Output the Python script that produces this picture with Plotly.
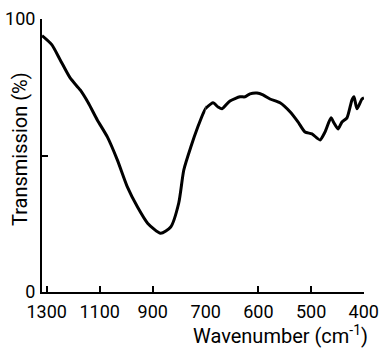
import plotly.graph_objects as go

# Data (wavenumber in cm^-1, transmission in %)
wavenumber = [1317.8, 1281, 1249.5, 1211.6, 1173.6, 1143.3, 1109.1, 1071.2, 1033.2,
              995.3, 957.3, 919.4, 870.0, 832.1, 801.7, 782.7, 756.2, 729.6, 706.8,
              686.1, 676.7, 669.1, 653.9, 634.9, 625.4, 615.9, 602.7, 591.3, 578.0,
              559.0, 540.0, 524.9, 511.6, 498.3, 483.1, 473.6, 462.2, 456.5, 448.9,
              441.4, 431.9, 422.4, 418.6, 412.9, 403.4, 399.6]
transmission = [93.9, 90.6, 85.1, 78.4, 74.0, 69.3, 63.0, 56.8, 48.3,
                38.4, 31.1, 25.2, 21.5, 23.8, 32.6, 44.7, 53.1, 60.5, 66.0,
                69.3, 67.8, 67.1, 70.0, 71.5, 71.5, 72.6, 72.9, 72.2, 70.7,
                69.3, 66.0, 62.3, 58.6, 57.9, 55.7, 58.6, 63.8, 61.9, 59.7,
                62.3, 63.8, 70.4, 71.5, 67.1, 70.7, 71.1]

left_ticks = [1300, 1100, 900]
right_ticks = [700, 600, 500, 400]
y_ticks = [0, 50, 100]
y_ticktext = ["0", "", "100"]

# split scale: 1300-700 on left half, 700-400 on right half
split = 700
iL = max(i for i, w in enumerate(wavenumber) if w >= split)
left_x = wavenumber[:iL + 2]
left_y = transmission[:iL + 2]
right_x = wavenumber[iL:]
right_y = transmission[iL:]

W, H = 384, 353
ml, mr, mt, mb = 42, 20, 19, 61
pw = W - ml - mr
ph = H - mt - mb
split_frac = (205.7 - ml) / pw

FONT = "Roboto, Arial, sans-serif"
line = dict(color="black", width=3, shape="spline", smoothing=0.6)

fig = go.Figure()
fig.add_trace(go.Scatter(x=left_x, y=left_y, mode="lines", line=line,
                         xaxis="x", yaxis="y", showlegend=False, hoverinfo="skip"))
fig.add_trace(go.Scatter(x=right_x, y=right_y, mode="lines", line=line,
                         xaxis="x2", yaxis="y", showlegend=False, hoverinfo="skip"))

axis_common = dict(showline=True, linecolor="black", linewidth=2, ticks="inside",
                   ticklen=6, tickwidth=1.5, tickcolor="black", showgrid=False,
                   zeroline=False, tickangle=0, automargin=False,
                   tickfont=dict(family=FONT, size=18, color="black"))

fig.update_layout(
    width=W, height=H,
    margin=dict(l=ml, r=mr, t=mt, b=mb, autoexpand=False),
    paper_bgcolor="white", plot_bgcolor="white",
    xaxis=dict(domain=[0, split_frac], range=[1317.8, 700], tickmode="array",
               tickvals=left_ticks, anchor="y", ticklabelstandoff=2, **axis_common),
    xaxis2=dict(domain=[split_frac, 1], range=[700, 399.6], tickmode="array",
                tickvals=right_ticks, anchor="y", ticklabelstandoff=2, **axis_common),
    yaxis=dict(domain=[0, 1], range=[0, 100], tickmode="array", tickvals=y_ticks,
               ticktext=y_ticktext, anchor="x", ticklabelstandoff=1, **axis_common),
    annotations=[
        dict(text="Wavenumber (cm<sup>-1</sup>)", xref="paper", yref="paper",
             x=(280 - ml) / pw, y=(mt + ph - 335) / ph, showarrow=False,
             xanchor="center", yanchor="middle",
             font=dict(family=FONT, size=20, color="black")),
        dict(text="Transmission (%)", xref="paper", yref="paper",
             x=(20 - ml) / pw, y=(mt + ph - 149) / ph, showarrow=False,
             textangle=-90, xanchor="center", yanchor="middle",
             font=dict(family=FONT, size=20, color="black")),
    ],
)

fig.write_html("out.html")
